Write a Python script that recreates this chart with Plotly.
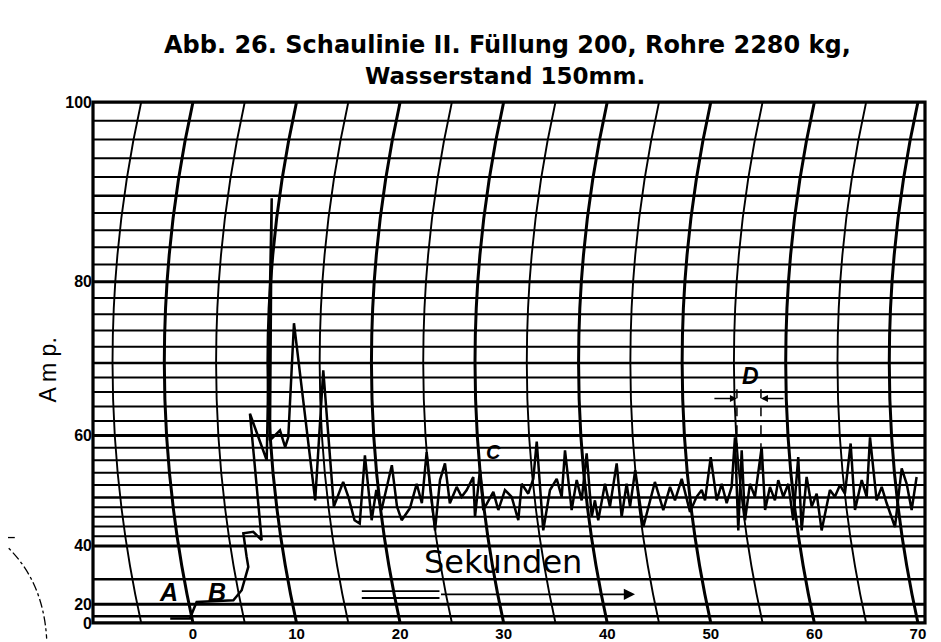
import numpy as np
import plotly.graph_objects as go

# ---- meter scale (Amp -> relative scale position, 0..100) ----
SCALE_AMP = [0, 10, 20, 30, 40, 50, 60, 70, 80, 90, 100]
SCALE_POS = [0, 1.3, 3.6, 8.4, 14.8, 24.1, 36.0, 49.9, 65.5, 82.0, 100]

def to_pos(a):
    return np.interp(a, SCALE_AMP, SCALE_POS)

# ---- recorded trace (seconds, Amp) ----
time_s = [-2.2, -0.3, 0.35, 3.9, 4.7, 5.34, 5.18, 4.86, 5.82, 6.63, 5.5, 7.12, 7.6, 7.43,
          8.4, 8.9, 9.2, 9.75, 11.8, 12.58, 13.6, 14.5, 15.0, 15.6, 16.1, 16.6, 17.25,
          17.7, 18.2, 19.2, 19.7, 20.15, 20.95, 21.6, 22.1, 22.56, 23.37, 23.85, 24.33,
          24.8, 25.46, 25.94, 26.43, 27.06, 27.23, 27.71, 28.03, 29.0, 29.48, 30.12,
          30.77, 31.41, 31.74, 32.37, 32.86, 33.19, 33.82, 34.47, 35.12, 35.6, 35.92,
          36.56, 37.05, 37.53, 38.01, 38.5, 38.81, 39.13, 39.78, 40.26, 40.91, 41.39,
          41.87, 42.2, 42.7, 43.48, 44.6, 45.41, 46.06, 46.54, 47.19, 47.99, 48.63,
          49.12, 49.44, 49.99, 50.57, 51.05, 51.53, 52.01, 52.33, 52.65, 52.98, 53.3,
          53.78, 54.26, 54.91, 55.24, 55.71, 56.19, 56.51, 57.0, 57.48, 57.96, 58.44,
          58.77, 59.25, 59.74, 60.22, 60.7, 61.5, 61.98, 62.47, 62.95, 63.5, 63.92,
          64.57, 65.05, 65.37, 66.01, 66.5, 66.98, 67.78, 68.43, 68.91, 69.39, 69.87]
amp = [6.6, 6.6, 20.9, 21.6, 25.6, 33.7, 36.7, 42.6, 42.9, 41.2, 63.0, 56.0, 89.7, 59.2,
       60.7, 58.1, 59.7, 74.9, 49.4, 69.0, 48.1, 52.5, 50.1, 45.3, 44.6, 56.8, 45.3,
       51.2, 47.4, 55.2, 48.1, 45.3, 47.8, 52.2, 48.8, 57.3, 43.2, 52.8, 55.5,
       48.8, 51.7, 50.1, 51.2, 53.3, 46.0, 54.4, 47.4, 50.9, 47.4, 51.2,
       50.1, 45.3, 52.2, 50.6, 53.0, 59.0, 43.2, 51.2, 53.0, 50.1, 57.6,
       47.4, 52.8, 49.4, 57.1, 46.0, 49.4, 45.3, 52.2, 48.1, 55.5, 46.0,
       52.2, 48.1, 54.4, 43.9, 52.5, 47.4, 51.7, 49.4, 53.0, 47.0, 50.1,
       51.2, 49.4, 56.5, 49.4, 52.2, 48.8, 51.7, 59.7, 43.2, 57.6, 45.3,
       52.2, 50.1, 58.1, 47.4, 51.7, 49.4, 52.8, 50.1, 52.2, 45.3, 56.5,
       43.2, 53.3, 48.1, 50.6, 43.2, 51.2, 50.1, 52.0, 50.6, 58.7, 47.4,
       52.8, 50.1, 59.7, 49.4, 51.7, 48.8, 43.9, 54.7, 52.2, 47.4, 53.3]

# ---- axes / grid ----
x_ticks = [0, 10, 20, 30, 40, 50, 60, 70]
y_ticks = [0, 20, 40, 60, 80, 100]
grid_amp = [0, 10, 20, 30] + list(range(40, 101, 2))
time_lines = list(range(-5, 71, 5))
ARC_SAG = 2.77   # bulge of the recorder's curved time lines, seconds

X_RANGE = [-9.655, 70.68]

fig = go.Figure()

fig.add_trace(go.Scatter(x=time_s, y=to_pos(amp), mode="lines",
                         line=dict(color="black", width=2.5), hoverinfo="skip",
                         showlegend=False))

shapes = []
for a in grid_amp:
    w = 3.0 if a % 20 == 0 else (2.6 if a % 10 == 0 else 2.0)
    yv = float(to_pos(a))
    shapes.append(dict(type="line", xref="paper", yref="y", x0=0, x1=1, y0=yv, y1=yv,
                       line=dict(color="black", width=w), layer="below"))
for t in time_lines:
    w = 3.0 if t % 10 == 0 else 1.9
    shapes.append(dict(type="path", xref="x", yref="y",
                       path=f"M {t},0 Q {t - 2 * ARC_SAG},50 {t},100",
                       line=dict(color="black", width=w), layer="below"))
# frame
shapes.append(dict(type="rect", xref="paper", yref="paper", x0=0, x1=1, y0=0, y1=1,
                   line=dict(color="black", width=3.2)))
# D marker dashed lines
for t in [52.52, 54.84]:
    shapes.append(dict(type="line", xref="x", yref="y", x0=t, x1=t, y0=29.3, y1=45.6,
                       line=dict(color="black", width=1.5, dash="dash")))
# feathered tail of the "Sekunden" arrow
for yv in [6.1, 4.8]:
    shapes.append(dict(type="line", xref="x", yref="y", x0=16.3, x1=23.8, y0=yv, y1=yv,
                       line=dict(color="black", width=1.8)))
# dash-dot circle outside left
shapes.append(dict(type="path", xref="paper", yref="paper",
                   path="M -0.112,0.159 Q -0.06,0.09 -0.0557,-0.03",
                   line=dict(color="black", width=1.3, dash="dashdot")))
shapes.append(dict(type="line", xref="paper", yref="paper", x0=-0.112, x1=-0.094,
                   y0=0.164, y1=0.164, line=dict(color="black", width=1.3)))

C = dict(xanchor="center", yanchor="middle", showarrow=False)
ann = []
ann.append(dict(text="<b>Abb. 26. Schaulinie II. Füllung 200, Rohre 2280 kg,</b>",
                xref="paper", yref="paper", x=0.4986, y=1.109,
                font=dict(family="DejaVu Sans", size=24, color="black"), **C))
ann.append(dict(text="<b>Wasserstand 150mm.</b>",
                xref="paper", yref="paper", x=0.495, y=1.049,
                font=dict(family="DejaVu Sans", size=23, color="black"), **C))
ann.append(dict(text="A m p.", xref="paper", yref="paper", x=-0.054, y=0.485,
                textangle=-90,
                font=dict(family="Liberation Sans", size=23, color="black"), **C))
for txt, tx, ty, sz in [("A", -2.41, 5.9, 25), ("B", 2.3, 5.9, 25),
                        ("C", 28.97, 32.8, 20), ("D", 53.8, 47.5, 23)]:
    ann.append(dict(text=f"<b><i>{txt}</i></b>", x=tx, y=ty, xref="x", yref="y",
                    font=dict(family="Liberation Sans", size=sz, color="black"), **C))
ann.append(dict(text="Sekunden", x=29.93, y=11.65, xref="x", yref="y",
                font=dict(family="DejaVu Sans", size=32, color="black"), **C))
ann.append(dict(text="", x=42.68, y=5.5, ax=23.8, ay=5.5, xref="x", yref="y",
                axref="x", ayref="y", showarrow=True, arrowhead=2, arrowsize=1.4,
                arrowwidth=1.6, arrowcolor="black"))
ann.append(dict(text="", x=52.52, y=43.1, ax=50.2, ay=43.1, xref="x", yref="y",
                axref="x", ayref="y", showarrow=True, arrowhead=2, arrowsize=1,
                arrowwidth=1.4, arrowcolor="black"))
ann.append(dict(text="", x=54.84, y=43.1, ax=57.16, ay=43.1, xref="x", yref="y",
                axref="x", ayref="y", showarrow=True, arrowhead=2, arrowsize=1,
                arrowwidth=1.4, arrowcolor="black"))

# page body has an 8px default margin, so the figure is sized to fit inside the window
fig.update_layout(
    width=933, height=634,
    margin=dict(l=85, r=16, t=94, b=19, autoexpand=False),
    paper_bgcolor="white", plot_bgcolor="white",
    shapes=shapes, annotations=ann, showlegend=False,
    xaxis=dict(range=X_RANGE, tickvals=x_ticks, ticktext=[f"<b>{v}</b>" for v in x_ticks],
               showgrid=False, zeroline=False, showline=False, ticks="", automargin=False,
               tickfont=dict(family="Liberation Sans", size=15, color="black")),
    yaxis=dict(range=[0, 100], tickvals=[float(v) for v in to_pos(y_ticks)],
               ticktext=[f"<b>{v}</b>" for v in y_ticks], automargin=False,
               showgrid=False, zeroline=False, showline=False, ticks="",
               tickfont=dict(family="Liberation Sans", size=16, color="black")),
)

fig.write_html("out.html")
